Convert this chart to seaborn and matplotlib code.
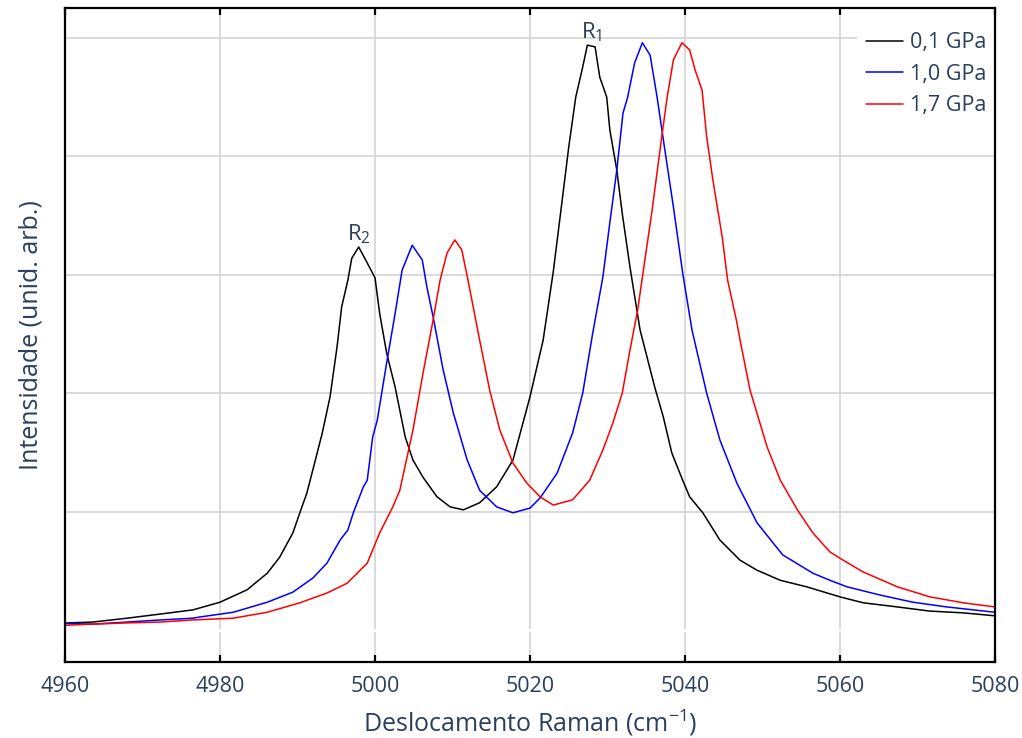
import numpy as np
import pandas as pd
import matplotlib
matplotlib.use("Agg")
import matplotlib.pyplot as plt
import seaborn as sns

# ---- data ----
x_01 = [4960.0, 4960.3, 4963.6, 4968.0, 4972.3, 4976.5, 4980.0, 4983.5, 4986.1, 4987.7,
        4989.4, 4990.3, 4991.2, 4992.3, 4993.2, 4994.2, 4995.1, 4995.7, 4996.5, 4997.0,
        4997.9, 4999.0, 5000.0, 5000.6, 5001.5, 5002.6, 5003.9, 5004.9, 5006.2, 5008.0,
        5009.7, 5011.4, 5013.5, 5015.7, 5017.8, 5020.0, 5021.7, 5023.0, 5024.2, 5025.0,
        5025.9, 5026.8, 5027.4, 5028.4, 5029.0, 5029.9, 5030.3, 5031.2, 5031.9, 5032.9,
        5034.2, 5035.1, 5036.1, 5037.2, 5038.3, 5039.7, 5040.6, 5042.3, 5044.5, 5047.1,
        5049.3, 5052.3, 5055.7, 5060.0, 5063.0, 5067.4, 5071.6, 5075.9, 5080.0]
y_01 = [0.011, 0.012, 0.0135, 0.020, 0.027, 0.034, 0.047, 0.068, 0.096, 0.123,
        0.164, 0.198, 0.231, 0.287, 0.333, 0.394, 0.478, 0.546, 0.591, 0.628,
        0.647, 0.620, 0.595, 0.535, 0.468, 0.410, 0.326, 0.287, 0.258, 0.225,
        0.208, 0.203, 0.215, 0.242, 0.287, 0.394, 0.490, 0.605, 0.731, 0.816,
        0.900, 0.951, 0.988, 0.985, 0.934, 0.900, 0.845, 0.777, 0.704, 0.613,
        0.507, 0.461, 0.410, 0.360, 0.299, 0.253, 0.225, 0.198, 0.152, 0.118,
        0.101, 0.084, 0.073, 0.056, 0.046, 0.039, 0.032, 0.029, 0.024]

x_10 = [4960.0, 4963.6, 4968.0, 4972.3, 4976.5, 4977.4, 4981.7, 4986.1, 4989.4, 4992.0,
        4993.8, 4995.5, 4996.5, 4997.2, 4998.5, 4999.0, 4999.7, 5000.3, 5001.5, 5002.6,
        5003.5, 5004.8, 5006.1, 5006.7, 5007.5, 5008.8, 5010.1, 5011.9, 5013.5, 5015.7,
        5017.8, 5020.0, 5021.3, 5023.5, 5025.5, 5026.8, 5028.1, 5029.4, 5030.3, 5031.2,
        5032.0, 5032.6, 5033.5, 5034.5, 5035.5, 5036.4, 5037.4, 5038.5, 5039.7, 5040.9,
        5041.5, 5042.8, 5044.5, 5046.7, 5049.3, 5052.6, 5056.5, 5058.7, 5060.9, 5065.2,
        5069.4, 5073.8, 5080.0]
y_10 = [0.011, 0.010, 0.0135, 0.017, 0.020, 0.022, 0.030, 0.047, 0.064, 0.088,
        0.113, 0.152, 0.169, 0.198, 0.242, 0.253, 0.326, 0.355, 0.451, 0.535,
        0.608, 0.650, 0.625, 0.579, 0.529, 0.439, 0.367, 0.287, 0.236, 0.208,
        0.198, 0.206, 0.223, 0.265, 0.333, 0.400, 0.502, 0.596, 0.688, 0.777,
        0.873, 0.900, 0.958, 0.992, 0.971, 0.900, 0.811, 0.715, 0.603, 0.507,
        0.473, 0.400, 0.321, 0.248, 0.181, 0.127, 0.096, 0.084, 0.073, 0.059,
        0.047, 0.039, 0.030]

x_17 = [4960.0, 4963.6, 4968.0, 4972.3, 4976.5, 4981.7, 4986.1, 4990.3, 4993.8, 4996.4,
        4999.0, 5000.6, 5002.3, 5003.2, 5004.9, 5006.2, 5007.5, 5008.4, 5009.3, 5010.3,
        5011.2, 5012.0, 5013.5, 5014.8, 5016.1, 5017.8, 5019.6, 5021.3, 5023.0, 5025.5,
        5027.7, 5029.4, 5030.7, 5031.9, 5032.9, 5033.9, 5034.5, 5035.7, 5037.0, 5037.7,
        5038.5, 5039.6, 5040.6, 5041.3, 5042.2, 5042.8, 5043.6, 5044.8, 5045.5, 5046.7,
        5047.1, 5048.4, 5050.6, 5052.3, 5054.5, 5056.5, 5058.7, 5060.4, 5063.0, 5067.4,
        5071.6, 5075.9, 5080.0]
y_17 = [0.008, 0.010, 0.012, 0.0135, 0.017, 0.020, 0.030, 0.046, 0.0625, 0.079,
        0.113, 0.164, 0.208, 0.236, 0.338, 0.434, 0.524, 0.591, 0.637, 0.659,
        0.642, 0.591, 0.490, 0.405, 0.338, 0.282, 0.248, 0.225, 0.211, 0.220,
        0.253, 0.304, 0.350, 0.400, 0.473, 0.541, 0.596, 0.704, 0.833, 0.900,
        0.963, 0.992, 0.980, 0.946, 0.912, 0.833, 0.760, 0.664, 0.591, 0.519,
        0.490, 0.405, 0.309, 0.253, 0.203, 0.164, 0.132, 0.118, 0.098, 0.073,
        0.056, 0.046, 0.039]

series_labels = ["0,1 GPa", "1,0 GPa", "1,7 GPa"]
series_colors = ["#000000", "#0000ff", "#ff0000"]
x_ticks = [4960, 4980, 5000, 5020, 5040, 5060, 5080]
y_grid = [0.2, 0.4, 0.6, 0.8, 1.0]
peak_labels = [("R$_1$", 5027.9, 0.988), ("R$_2$", 4997.9, 0.647)]

# ---- style ----
sns.set_theme(style="white")
plt.rcParams["font.family"] = ["Open Sans", "DejaVu Sans"]
plt.rcParams["mathtext.fontset"] = "custom"
plt.rcParams["mathtext.rm"] = "Open Sans"
plt.rcParams["mathtext.it"] = "Open Sans:italic"
plt.rcParams["mathtext.bf"] = "Open Sans:bold"
text_color = "#2a3f5f"

fig = plt.figure(figsize=(10.22, 7.38), dpi=100)
ax = fig.add_axes([65 / 1022, 76 / 738, 930 / 1022, 654 / 738])

for xs, ys, lab, col in zip([x_01, x_10, x_17], [y_01, y_10, y_17], series_labels, series_colors):
    df = pd.DataFrame({"x": xs, "y": ys})
    sns.lineplot(data=df, x="x", y="y", color=col, label=lab, linewidth=1.1,
                 estimator=None, sort=False, ax=ax, zorder=3)

ax.set_xlim(4960, 5080)
ax.set_ylim(-0.054, 1.0507)
ax.set_xticks(x_ticks)
ax.set_yticks(y_grid)
ax.set_yticklabels([])
ax.grid(True, color="#d4d4d4", linewidth=1.2, zorder=0)
ax.set_axisbelow(True)
ax.axhline(0, color="white", linewidth=2, zorder=1)

for s in ax.spines.values():
    s.set_color("black")
    s.set_linewidth(1.6)
    s.set_visible(True)
    s.set_zorder(6)

ax.tick_params(axis="x", direction="in", top=True, bottom=True, length=5, width=1.6,
               color="black", labelsize=15.5, labelcolor=text_color, pad=10)
ax.tick_params(axis="y", left=False, right=False, length=0)

ax.set_xlabel("Deslocamento Raman (cm$^{-1}$)", fontsize=18, color=text_color, labelpad=8)
ax.set_ylabel("Intensidade (unid. arb.)", fontsize=18, color=text_color, labelpad=12)

for txt, px, py in peak_labels:
    ax.annotate(txt, (px, py), xytext=(0, 1), textcoords="offset points",
                ha="center", va="bottom", fontsize=16, color=text_color)

leg = ax.legend(loc="upper right", bbox_to_anchor=(1.006, 0.984), frameon=True,
                fontsize=15.5, handlelength=1.7, handletextpad=0.35, borderaxespad=0.25,
                borderpad=0.4, labelspacing=0.48, fancybox=False, framealpha=1.0,
                edgecolor="white")
leg.get_frame().set_linewidth(0)
for t in leg.get_texts():
    t.set_color(text_color)

fig.savefig("out.png", dpi=100)
